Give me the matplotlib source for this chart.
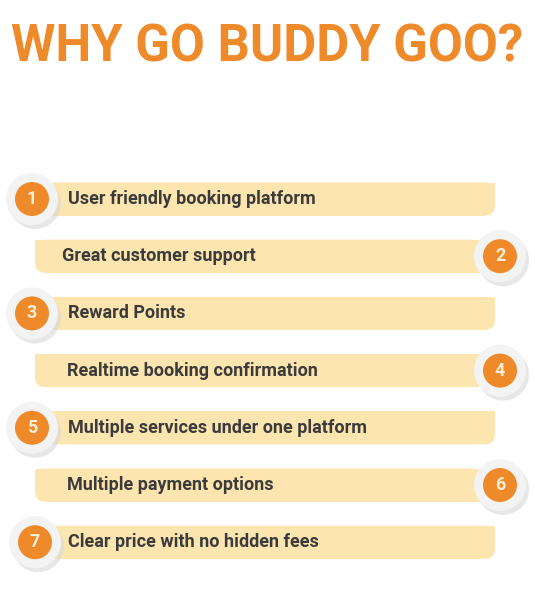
import matplotlib.pyplot as plt
from matplotlib.patches import FancyBboxPatch, Rectangle, Circle

title = "WHY GO BUDDY GOO?"
numbers = [1, 2, 3, 4, 5, 6, 7]
labels = [
    "User friendly booking platform",
    "Great customer support",
    "Reward Points",
    "Realtime booking confirmation",
    "Multiple services under one platform",
    "Multiple payment options",
    "Clear price with no hidden fees",
]

orange = "#EE8A2A"
bar_col = "#FDE5B0"
text_col = "#3b3b3b"

fig = plt.figure(figsize=(5.35, 5.90), dpi=100, facecolor="white")
ax = fig.add_axes([0, 0, 1, 1])
ax.set_xlim(0, 535)
ax.set_ylim(590, 0)
ax.axis("off")

ax.text(267, 48, title, ha="center", va="center", color=orange,
        fontsize=36.5, fontweight="bold", family="Roboto")

h = 33
r = 10
for i, (n, lab) in enumerate(zip(numbers, labels)):
    yc = 199 + i * 57.2
    y0 = yc - h / 2
    if i % 2 == 0:
        x0, x1 = 45, 495
        ax.add_patch(FancyBboxPatch((x0 + r, y0 + r), x1 - x0 - 2 * r, h - 2 * r,
                                    boxstyle=f"round,pad={r}", fc=bar_col, ec="none"))
        ax.add_patch(Rectangle((x0, y0), x1 - x0 - r, h, fc=bar_col, ec="none"))
        ax.add_patch(Rectangle((x0, y0), x1 - x0, h - r, fc=bar_col, ec="none"))
        cx = 32 + (3 if i == 6 else 0)
        tx = 68
    else:
        x0, x1 = 35, 482
        ax.add_patch(FancyBboxPatch((x0 + r, y0 + r), x1 - x0 - 2 * r, h - 2 * r,
                                    boxstyle=f"round,pad={r}", fc=bar_col, ec="none"))
        ax.add_patch(Rectangle((x0 + r, y0), x1 - x0 - r, h, fc=bar_col, ec="none"))
        ax.add_patch(Rectangle((x0, y0), x1 - x0, h - r, fc=bar_col, ec="none"))
        cx = 500
        tx = 62 if i == 1 else 67
    # shadowed white disc with orange core
    ax.add_patch(Circle((cx + 3, yc + 4), 26, fc="#d8d8d8", ec="none", alpha=0.6))
    ax.add_patch(Circle((cx, yc), 26, fc="#f3f3f3", ec="none"))
    ax.add_patch(Circle((cx, yc), 17, fc=orange, ec="none"))
    ax.text(cx, yc, str(n), ha="center", va="center", color="#fdeed8",
            fontsize=13, fontweight="bold", family="Roboto")
    ax.text(tx, yc, lab, ha="left", va="center", color=text_col,
            fontsize=13, fontweight="bold", family="Roboto")

fig.savefig("out.png", dpi=100, facecolor="white")
